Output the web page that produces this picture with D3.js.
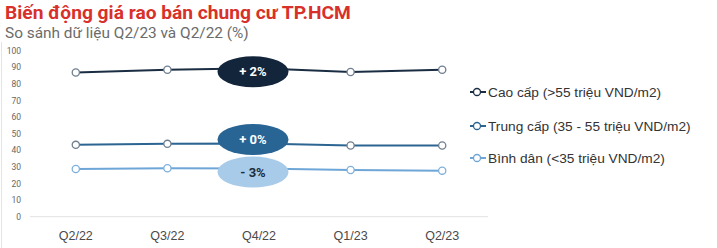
<!DOCTYPE html>
<html><head><meta charset="utf-8">
<script src="https://cdn.jsdelivr.net/npm/d3@7"></script>
<style>body{margin:0;background:#fff}svg{display:block;font-family:Roboto,"Noto Sans",Arial,sans-serif}</style>
</head><body><svg id="c" width="717" height="248"></svg>
<script>
const categories = ["Q2/22","Q3/22","Q4/22","Q1/23","Q2/23"];
const seriesNames = ["Cao cấp (>55 triệu VND/m2)","Trung cấp (35 - 55 triệu VND/m2)","Bình dân (<35 triệu VND/m2)"];
const caoCap = [86.7, 88.4, 89.2, 87.0, 88.4];
const trungCap = [43.2, 43.8, 44.0, 42.8, 42.8];
const binhDan = [28.7, 29.1, 29.0, 28.1, 27.7];
const changeLabels = ["+ 2%","+ 0%","- 3%"];
const yTicks = [0,10,20,30,40,50,60,70,80,90,100];

const lineColors = ["#1b2d42","#2c6592","#6ea6d7"];
const badgeColors = ["#13253a","#286494","#a8cbe9"];
const badgeText = ["#ffffff","#ffffff","#1d2c3d"];
const badgeY = [71.7,139.5,172];

const svg = d3.select("#c");
const x = d3.scaleBand().domain(categories).range([30,488]);
const y = d3.scaleLinear().domain([0,100]).range([216.7,50.4]);

svg.append("text").attr("x",5).attr("y",19).attr("fill","#d8302a").attr("font-size",19.2).attr("font-weight","bold").text("Biến động giá rao bán chung cư TP.HCM");
svg.append("text").attr("x",5).attr("y",38).attr("fill","#6b6b6b").attr("font-size",15.4).text("So sánh dữ liệu Q2/23 và Q2/22 (%)");

svg.append("line").attr("x1",1.5).attr("x2",1.5).attr("y1",42).attr("y2",248).attr("stroke","#e4e4e4");

// y axis labels
const ya = svg.append("g").attr("transform","translate(21,0)").call(d3.axisLeft(y).tickValues(yTicks).tickSize(0).tickPadding(0));
ya.select(".domain").remove();
ya.selectAll("text").attr("fill","#666").attr("font-size",8.5).attr("font-family","Roboto,Arial,sans-serif");

// baseline + x labels
svg.append("line").attr("x1",30).attr("x2",488).attr("y1",y(0)).attr("y2",y(0)).attr("stroke","#e2e2e2");
const xa = svg.append("g").attr("transform",`translate(0,${y(0)})`).call(d3.axisBottom(x).tickSize(0).tickPadding(14));
xa.select(".domain").remove();
xa.selectAll("text").attr("fill","#4a4a4a").attr("font-size",12.5).attr("font-family","Arial,'Liberation Sans',sans-serif");

const data = [caoCap, trungCap, binhDan];
const line = d3.line().x((d,i)=>x(categories[i])+x.bandwidth()/2).y(d=>y(d));
data.forEach((s,k)=>{
  svg.append("path").attr("d",line(s)).attr("fill","none").attr("stroke",lineColors[k]).attr("stroke-width",2);
  svg.selectAll(null).data(s).enter().append("circle")
    .attr("cx",(d,i)=>x(categories[i])+x.bandwidth()/2).attr("cy",d=>y(d)).attr("r",3.6)
    .attr("fill","#fff").attr("stroke",k===2?"#7fb0dc":"#6f7f90").attr("stroke-width",1.3);
});

// badges
const bx = x("Q4/22")+x.bandwidth()/2 - 6;
changeLabels.forEach((t,k)=>{
  svg.append("ellipse").attr("cx",bx).attr("cy",badgeY[k]).attr("rx",35.5).attr("ry",15.5).attr("fill",badgeColors[k]);
  svg.append("text").attr("x",bx).attr("y",badgeY[k]+4.5).attr("text-anchor","middle").attr("fill",badgeText[k])
    .attr("font-size",13).attr("font-weight","bold").text(t);
});

// legend
const legY = [92,126,158];
seriesNames.forEach((n,k)=>{
  const g = svg.append("g").attr("transform",`translate(0,${legY[k]})`);
  g.append("line").attr("x1",470).attr("x2",486).attr("y1",0).attr("y2",0).attr("stroke",lineColors[k]).attr("stroke-width",2);
  g.append("circle").attr("cx",477).attr("cy",0).attr("r",3.5).attr("fill","#fff").attr("stroke",lineColors[k]).attr("stroke-width",1.3);
  g.append("text").attr("x",488).attr("y",4.8).attr("fill","#333").attr("font-size",13.7).attr("font-family","Arial,'Liberation Sans',sans-serif").text(n);
});
</script></body></html>
